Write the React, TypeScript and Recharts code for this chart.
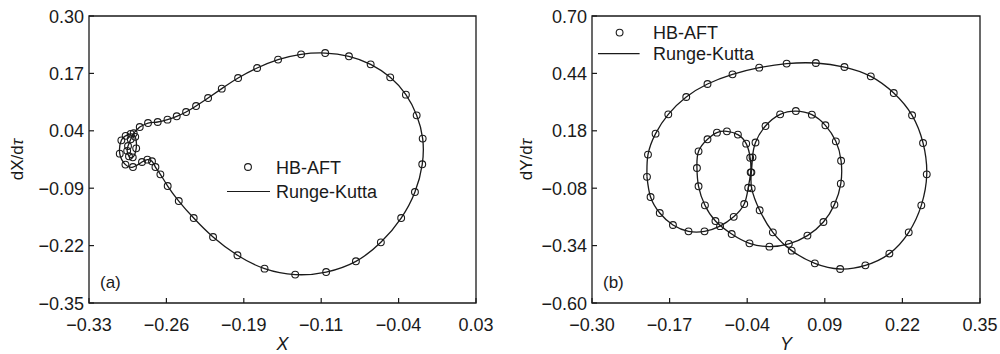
import React from 'react';
import { ScatterChart, Scatter, XAxis, YAxis, ReferenceArea } from 'recharts';

const INK = '#1a1a1a';
const FONT = '"Liberation Sans", Arial, Helvetica, sans-serif';

// (a) phase portrait X vs dX/dτ, one period in time order
const orbitAX = [
  -0.2828, -0.2751, -0.2661, -0.257, -0.2484, -0.2397, -0.2304, -0.2192, -0.2065, -0.1913,
  -0.1736, -0.1541, -0.1327, -0.1103, -0.0882, -0.068, -0.0498, -0.0352, -0.0252, -0.0196,
  -0.02, -0.0268, -0.0396, -0.0585, -0.0817, -0.1094, -0.1382, -0.1667, -0.1919, -0.2146,
  -0.2326, -0.2465, -0.2568, -0.2636, -0.2682, -0.2714, -0.2757, -0.2807, -0.2891, -0.2961,
  -0.3014, -0.2999, -0.2959, -0.2912, -0.287, -0.2861, -0.2893, -0.2928, -0.2945, -0.2937,
  -0.2912, -0.2884,
];
const orbitAY = [
  0.0485, 0.0576, 0.0599, 0.0653, 0.0728, 0.0825, 0.0961, 0.1142, 0.1355, 0.1595,
  0.1822, 0.2012, 0.2132, 0.2161, 0.2087, 0.1905, 0.1611, 0.1219, 0.075, 0.0223,
  -0.0359, -0.0987, -0.1576, -0.2126, -0.2556, -0.2799, -0.2857, -0.2722, -0.242, -0.2006,
  -0.1576, -0.1191, -0.0851, -0.0586, -0.0421, -0.0291, -0.0253, -0.0307, -0.0421, -0.0366,
  -0.0117, 0.0184, 0.0286, 0.0331, 0.0263, 0.0003, -0.0201, -0.0178, -0.0054, 0.0055,
  0.0207, 0.0343,
];
const ticksAX = [-0.33, -0.258, -0.186, -0.114, -0.042, 0.03];
const ticksAY = [-0.35, -0.22, -0.09, 0.04, 0.17, 0.3];

// (b) phase portrait Y vs dY/dτ
const orbitBX = [
  -0.2079, -0.2062, -0.1935, -0.1722, -0.1421, -0.1065, -0.0646, -0.0199, 0.0261, 0.075,
  0.1229, 0.167, 0.2055, 0.2362, 0.2546, 0.2608, 0.2517, 0.2306, 0.1982, 0.158,
  0.1157, 0.0733, 0.0345, 0.003, -0.0191, -0.0325, -0.033, -0.0311, -0.0261, -0.0094,
  0.0152, 0.0415, 0.0683, 0.091, 0.1085, 0.1173, 0.1168, 0.1061, 0.0877, 0.0609,
  0.0298, -0.0028, -0.0362, -0.066, -0.0932, -0.1108, -0.1215, -0.1242, -0.1215, -0.1065,
  -0.0907, -0.074, -0.0556, -0.0417, -0.035, -0.0342, -0.0383, -0.045, -0.0626, -0.0855,
  -0.1115, -0.1383, -0.1644, -0.1865, -0.2019,
];
const orbitBY = [
  -0.0285, 0.0721, 0.1672, 0.2546, 0.333, 0.3919, 0.4358, 0.4661, 0.4843, 0.487,
  0.4689, 0.4267, 0.3511, 0.2501, 0.1246, -0.0172, -0.1576, -0.2799, -0.3764, -0.4294,
  -0.4461, -0.4203, -0.3628, -0.2799, -0.1802, -0.0806, -0.0081, 0.0598, 0.1269, 0.2016,
  0.2546, 0.2695, 0.2532, 0.2048, 0.1323, 0.044, -0.0593, -0.1544, -0.2332, -0.2948,
  -0.332, -0.3447, -0.3297, -0.2876, -0.2287, -0.1576, -0.0715, 0.0114, 0.087, 0.1414,
  0.1717, 0.1776, 0.1627, 0.1219, 0.0576, -0.0081, -0.0783, -0.1517, -0.2097, -0.2518,
  -0.2754, -0.2754, -0.2468, -0.1925, -0.12,
];
const ticksBX = [-0.3, -0.17, -0.04, 0.09, 0.22, 0.35];
const ticksBY = [-0.6, -0.34, -0.08, 0.18, 0.44, 0.7];

const toPoints = (xs: number[], ys: number[]) => xs.map((x, i) => ({ x, y: ys[i] }));
const closeLoop = (pts: { x: number; y: number }[]) => [...pts, pts[0]];

const fmt = (v: number) => (v < 0 ? '\u2212' : '') + Math.abs(v).toFixed(2);

// ticks point into the plot, labels sit outside
const XTick = (props: any) => {
  const { x, y, payload } = props;
  return (
    <g>
      <line x1={x} x2={x} y1={y} y2={y - 5} stroke={INK} strokeWidth={1.2} />
      <text x={x} y={y + 28} textAnchor="middle" fontSize={18} fontFamily={FONT} fill={INK}>
        {fmt(payload.value)}
      </text>
    </g>
  );
};

const YTick = (props: any) => {
  const { x, y, payload } = props;
  return (
    <g>
      <line x1={x} x2={x + 5} y1={y} y2={y} stroke={INK} strokeWidth={1.2} />
      <text x={x - 5} y={y + 6.5} textAnchor="end" fontSize={18} fontFamily={FONT} fill={INK}>
        {fmt(payload.value)}
      </text>
    </g>
  );
};

const XTitle = ({ viewBox, name }: any) => (
  <text
    x={viewBox.x + viewBox.width / 2}
    y={viewBox.y + viewBox.height - 4}
    textAnchor="middle"
    fontSize={18}
    fontStyle="italic"
    fontFamily={FONT}
    fill={INK}
  >
    {name}
  </text>
);

const YTitle = ({ viewBox, name, left }: any) => (
  <text
    transform={`translate(${viewBox.x + left},${viewBox.y + viewBox.height / 2}) rotate(-90)`}
    dy="0.35em"
    textAnchor="middle"
    fontSize={17}
    fontFamily={FONT}
    fill={INK}
  >
    d{name}/d<tspan fontStyle="italic">τ</tspan>
  </text>
);

type LegendPos = { cx: number; cy: number; lx1: number; lx2: number; ly: number; tx: number };

// panel tag and the two-entry key, placed relative to the plot frame
const PanelDecor = ({ viewBox, tag, lg }: any) => {
  const { x, y, height } = viewBox;
  const p = lg as LegendPos;
  return (
    <g fontFamily={FONT} fill={INK}>
      <text x={x + 11} y={y + height - 15} fontSize={17}>
        {tag}
      </text>
      <circle cx={x + p.cx} cy={y + p.cy} r={3.4} fill="none" stroke={INK} strokeWidth={1.1} />
      <text x={x + p.tx} y={y + p.cy + 6.5} fontSize={18}>
        HB-AFT
      </text>
      <line x1={x + p.lx1} x2={x + p.lx2} y1={y + p.ly} y2={y + p.ly} stroke={INK} strokeWidth={1.2} />
      <text x={x + p.tx} y={y + p.ly + 6.5} fontSize={18}>
        Runge-Kutta
      </text>
    </g>
  );
};

const Ring = (p: any) => (
  <circle cx={p.cx} cy={p.cy} r={3.4} fill="none" stroke={INK} strokeWidth={1.1} />
);
const Blank = () => <g />;

type PanelProps = {
  xs: number[];
  ys: number[];
  xTicks: number[];
  yTicks: number[];
  name: string;
  tag: string;
  yAxisWidth: number;
  rightMargin: number;
  titleLeft: number;
  lg: LegendPos;
};

const Panel = ({ xs, ys, xTicks, yTicks, name, tag, yAxisWidth, rightMargin, titleLeft, lg }: PanelProps) => {
  const pts = toPoints(xs, ys);
  const xDom: [number, number] = [xTicks[0], xTicks[xTicks.length - 1]];
  const yDom: [number, number] = [yTicks[0], yTicks[yTicks.length - 1]];
  return (
    <ScatterChart width={500} height={354} margin={{ top: 16, right: rightMargin, bottom: 0, left: 0 }}>
      <XAxis
        type="number"
        dataKey="x"
        domain={xDom}
        ticks={xTicks}
        interval={0}
        allowDataOverflow
        axisLine={false}
        tickLine={false}
        tickSize={0}
        tickMargin={0}
        height={51}
        tick={<XTick />}
        label={<XTitle name={name} />}
      />
      <YAxis
        type="number"
        dataKey="y"
        domain={yDom}
        ticks={yTicks}
        interval={0}
        allowDataOverflow
        axisLine={false}
        tickLine={false}
        tickSize={0}
        tickMargin={0}
        width={yAxisWidth}
        tick={<YTick />}
        label={<YTitle name={name} left={titleLeft} />}
      />
      <ReferenceArea
        x1={xDom[0]}
        x2={xDom[1]}
        y1={yDom[0]}
        y2={yDom[1]}
        fill="none"
        stroke={INK}
        strokeWidth={1.3}
        ifOverflow="visible"
        label={<PanelDecor tag={tag} lg={lg} />}
      />
      <Scatter
        name="Runge-Kutta"
        data={closeLoop(pts)}
        line={{ stroke: INK, strokeWidth: 1.3 }}
        lineJointType="natural"
        shape={<Blank />}
        isAnimationActive={false}
      />
      <Scatter name="HB-AFT" data={pts} shape={<Ring />} isAnimationActive={false} />
    </ScatterChart>
  );
};

export default function App() {
  return (
    <div
      style={{
        position: 'absolute',
        left: 0,
        top: 0,
        width: 1000,
        height: 354,
        display: 'flex',
        background: '#fff',
      }}
    >
      <Panel
        xs={orbitAX}
        ys={orbitAY}
        xTicks={ticksAX}
        yTicks={ticksAY}
        name="X"
        tag="(a)"
        yAxisWidth={89}
        rightMargin={24}
        titleLeft={17}
        lg={{ cx: 159, cy: 151, lx1: 138, lx2: 181, ly: 175.5, tx: 187 }}
      />
      <Panel
        xs={orbitBX}
        ys={orbitBY}
        xTicks={ticksBX}
        yTicks={ticksBY}
        name="Y"
        tag="(b)"
        yAxisWidth={92}
        rightMargin={20}
        titleLeft={26}
        lg={{ cx: 27.6, cy: 16.6, lx1: 6, lx2: 47.6, ly: 37.6, tx: 61 }}
      />
    </div>
  );
}
